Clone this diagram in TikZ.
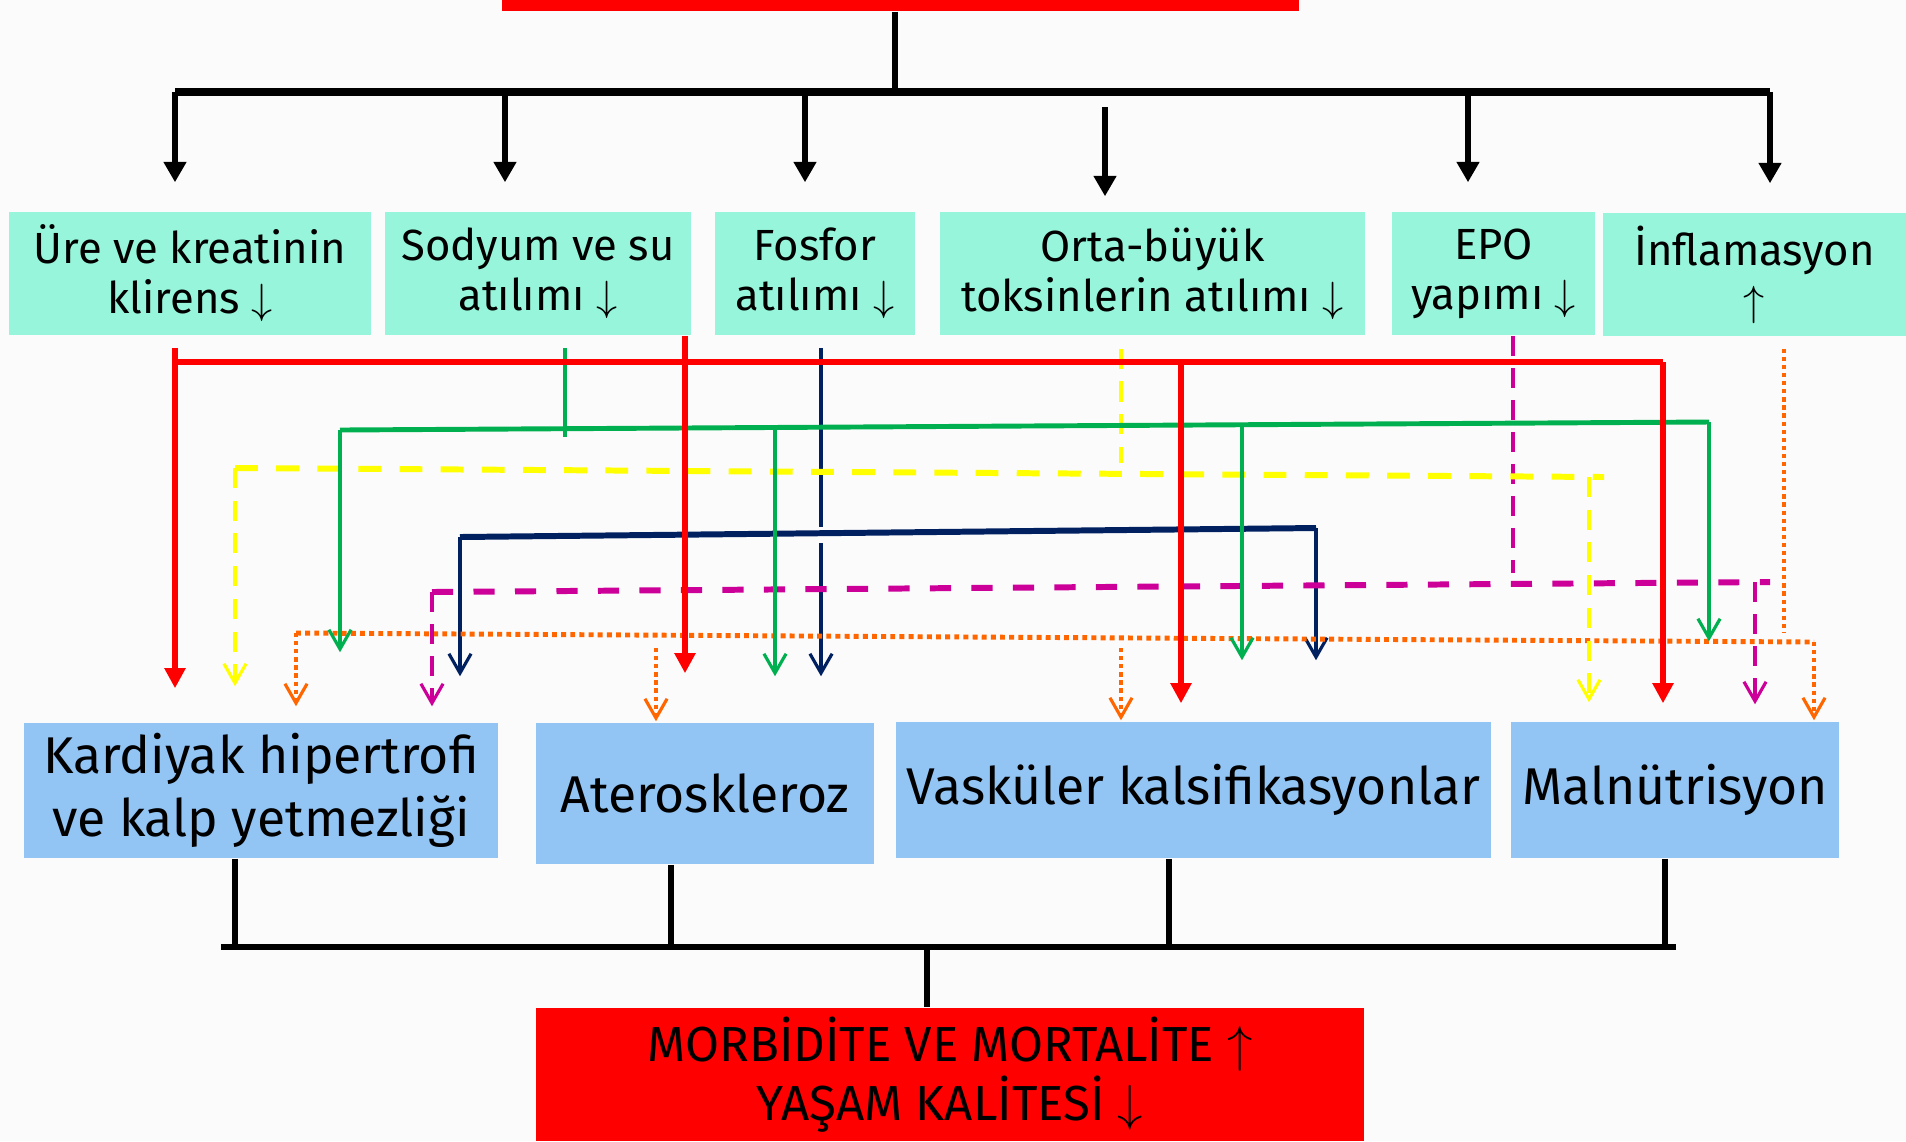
\documentclass[tikz,border=0pt]{standalone}
\usepackage{fontspec}
\setmainfont{Fira Sans}
\usetikzlibrary{arrows.meta}

\definecolor{boxgreen}{RGB}{150,245,218}
\definecolor{boxblue}{RGB}{146,196,244}
\definecolor{lgreen}{RGB}{0,176,80}
\definecolor{lnavy}{RGB}{0,32,96}
\definecolor{lyellow}{RGB}{255,255,0}
\definecolor{lmagenta}{RGB}{204,0,153}
\definecolor{lorange}{RGB}{255,102,0}
\definecolor{bgpaper}{RGB}{251,251,251}

\begin{document}
\begin{tikzpicture}[x=0.01cm, y=-0.01cm, line join=miter,
    cause/.style={fill=boxgreen, inner sep=0pt, align=center, font=\fontsize{12.4}{14.2}\selectfont},
    effect/.style={fill=boxblue, inner sep=0pt, align=center, font=\fontsize{14.7}{17.9}\selectfont},
    result/.style={fill=red, inner sep=0pt, align=center, font=\fontsize{14}{17}\selectfont},
    tree/.style={line width=1.6pt},
    bar/.style={line width=2.3pt},
    down/.style={tree, -{Triangle[length=5.8pt,width=6.2pt]}},
    redl/.style={red, line width=1.7pt},
    redarr/.style={redl, -{Triangle[length=5.7pt,width=5.7pt]}},
    vtip/.style={-{Straight Barb[length=5.5pt,width=6.3pt,line width=0.9pt]}},
    grnh/.style={lgreen, line width=1.4pt},
    grnv/.style={lgreen, line width=0.9pt},
    navh/.style={lnavy, line width=1.7pt},
    navv/.style={lnavy, line width=0.9pt},
    yelh/.style={lyellow, line width=1.7pt, dash pattern=on 6.5pt off 5.2pt},
    yelv/.style={lyellow, line width=0.9pt, dash pattern=on 5.7pt off 3.6pt},
    magh/.style={lmagenta, line width=1.7pt, dash pattern=on 6pt off 5.8pt},
    magv/.style={lmagenta, line width=0.9pt, dash pattern=on 5.7pt off 3.4pt},
    orgh/.style={lorange, line width=1.4pt, dash pattern=on 1.4pt off 1.2pt},
    orgv/.style={lorange, line width=0.9pt, dash pattern=on 1.2pt off 1.1pt}]

  \useasboundingbox (0,0) rectangle (1906,1141);
  \fill[bgpaper] (0,0) rectangle (1906,1141);
  \clip (0,0) rectangle (1906,1141);

  % boxes
  \node[fill=red, minimum width=7.97cm, minimum height=0.6cm] (src) at (900.5,-19) {};

  \node[cause, minimum width=3.62cm, minimum height=1.23cm] (t1) at (190,273.5) {Üre ve kreatinin\\klirens $\downarrow$};
  \node[cause, minimum width=3.06cm, minimum height=1.23cm] (t2) at (538,273.5) {Sodyum ve su\\atılımı $\downarrow$};
  \node[cause, minimum width=2.00cm, minimum height=1.23cm] (t3) at (815,273.5) {Fosfor\\atılımı $\downarrow$};
  \node[cause, minimum width=4.25cm, minimum height=1.23cm] (t4) at (1152.5,273.5) {Orta-büyük\\toksinlerin atılımı $\downarrow$};
  \node[cause, minimum width=2.03cm, minimum height=1.23cm] (t5) at (1493.5,273.5) {EPO\\yapımı $\downarrow$};
  \node[cause, minimum width=3.03cm, minimum height=1.23cm] (t6) at (1754.5,274.5) {İnflamasyon\\$\uparrow$};

  \node[effect, minimum width=4.74cm, minimum height=1.35cm] (b1) at (261,790.5) {Kardiyak hipertrofi\\ve kalp yetmezliği};
  \node[effect, minimum width=3.38cm, minimum height=1.41cm] (b2) at (705,793.5) {Ateroskleroz};
  \node[effect, minimum width=5.95cm, minimum height=1.36cm] (b3) at (1193.5,790) {Vasküler kalsifikasyonlar};
  \node[effect, minimum width=3.27cm, minimum height=1.36cm] (b4) at (1675,790) {Malnütrisyon};

  \node[result, minimum width=8.28cm, minimum height=1.33cm] (res) at (950,1074.5) {MORBİDİTE VE MORTALİTE $\uparrow$\\YAŞAM KALİTESİ $\downarrow$};

  % upper tree
  \coordinate (hub) at (895,92);
  \coordinate (barL) at (175,92);
  \coordinate (barR) at (1770,92);
  \draw[tree] (src.south -| hub) -- (hub);
  \draw[bar] (barL) -- (barR);
  \foreach \x/\t in {175/t1, 505/t2, 805/t3, 1468/t5, 1770/t6}
    \draw[down, shorten >=0.29cm] (\x,92) coordinate (a\t) -- (a\t |- \t.north);
  \coordinate (at4) at (1105,107);
  \draw[down, shorten >=0.15cm] (at4) -- (at4 |- t4.north);

  % fosfor (navy)
  \coordinate (nS) at (821,527);
  \coordinate (n2) at (821,543);
  \coordinate (nL) at (460,537);
  \coordinate (nR) at (1316,528);
  \draw[navv, shorten <=0.12cm] (t3.south -| nS) -- (nS);
  \draw[navh] (nL) -- (nR);
  \draw[navv, vtip, shorten >=0.46cm] (n2) -- (n2 |- b2.north);
  \draw[navv, vtip, shorten >=0.46cm] (nL) -- (nL |- b1.north);
  \draw[navv, vtip, shorten >=0.61cm] (nR) -- (nR |- b3.north);

  % inflamasyon (orange)
  \coordinate (oS) at (1784,632);
  \coordinate (oL) at (296,633);
  \coordinate (oR) at (1814,642);
  \coordinate (o2) at (656,648);
  \coordinate (o3) at (1121,648);
  \draw[orgv, shorten <=0.12cm] (t6.south -| oS) -- (oS);
  \draw[orgh] (oL) -- (oR);
  \draw[orgv, vtip, shorten >=0.16cm] (oL) -- (oL |- b1.north);
  \draw[orgv, vtip, shorten >=0.01cm] (o2) -- (o2 |- b2.north);
  \draw[orgv, vtip, shorten >=0.01cm] (o3) -- (o3 |- b3.north);
  \draw[orgv, vtip, shorten >=0.01cm] (oR) -- (oR |- b4.north);

  % EPO (magenta)
  \coordinate (mS) at (1513,573);
  \coordinate (mL) at (432,592);
  \coordinate (mR) at (1770,582);
  \coordinate (m2) at (1755,582);
  \draw[magv] (t5.south -| mS) -- (mS);
  \draw[magh] (mL) -- (mR);
  \draw[magv, vtip, shorten >=0.16cm] (mL) -- (mL |- b1.north);
  \draw[magv, vtip, shorten >=0.17cm] (m2) -- (m2 |- b4.north);

  % toksinler (yellow)
  \coordinate (yS) at (1121,463);
  \coordinate (yL) at (235,468);
  \coordinate (yR) at (1604,477);
  \coordinate (y2) at (1589,477);
  \draw[yelv, shorten <=0.13cm] (t4.south -| yS) -- (yS);
  \draw[yelh] (yL) -- (yR);
  \draw[yelv, vtip, shorten >=0.36cm] (yL) -- (yL |- b1.north);
  \draw[yelv, vtip, shorten >=0.19cm] (y2) -- (y2 |- b4.north);

  % sodyum ve su (green)
  \coordinate (gS) at (565,437);
  \coordinate (gL) at (340,430);
  \coordinate (gR) at (1709,422);
  \coordinate (g2) at (775,427);
  \coordinate (g3) at (1242,425);
  \draw[grnv, shorten <=0.12cm] (t2.south -| gS) -- (gS);
  \draw[grnh] (gL) -- (gR);
  \draw[grnv, vtip, shorten >=0.70cm] (gL) -- (gL |- b1.north);
  \draw[grnv, vtip, shorten >=0.46cm] (g2) -- (g2 |- b2.north);
  \draw[grnv, vtip, shorten >=0.61cm] (g3) -- (g3 |- b3.north);
  \draw[grnv, vtip, shorten >=0.80cm] (gR) -- (gR |- b4.north);

  % klirens (red)
  \coordinate (rA) at (175,362);
  \coordinate (rB) at (1663,362);
  \coordinate (rC) at (1181,362);
  \coordinate (rD) at (685,362);
  \draw[redarr, shorten <=0.12cm, shorten >=0.34cm] (t1.south -| rA) -- (rA |- b1.north);
  \draw[redl] (rA) -- (rB);
  \draw[redarr, shorten >=0.18cm] (rB) -- (rB |- b4.north);
  \draw[redarr, shorten >=0.18cm] (rC) -- (rC |- b3.north);
  \draw[redarr, shorten >=0.49cm] (t2.south -| rD) -- (rD |- b2.north);

  % lower tree
  \coordinate (jL) at (221,947);
  \coordinate (jR) at (1676,947);
  \coordinate (jT) at (927,947);
  \foreach \x/\b in {235/b1, 671/b2, 1169/b3, 1665/b4}
    \draw[tree] (\b.south -| \x,0) -- (\x,947);
  \draw[line width=1.9pt] (jL) -- (jR);
  \draw[tree] (jT) -- (jT |- res.north);
\end{tikzpicture}
\end{document}
